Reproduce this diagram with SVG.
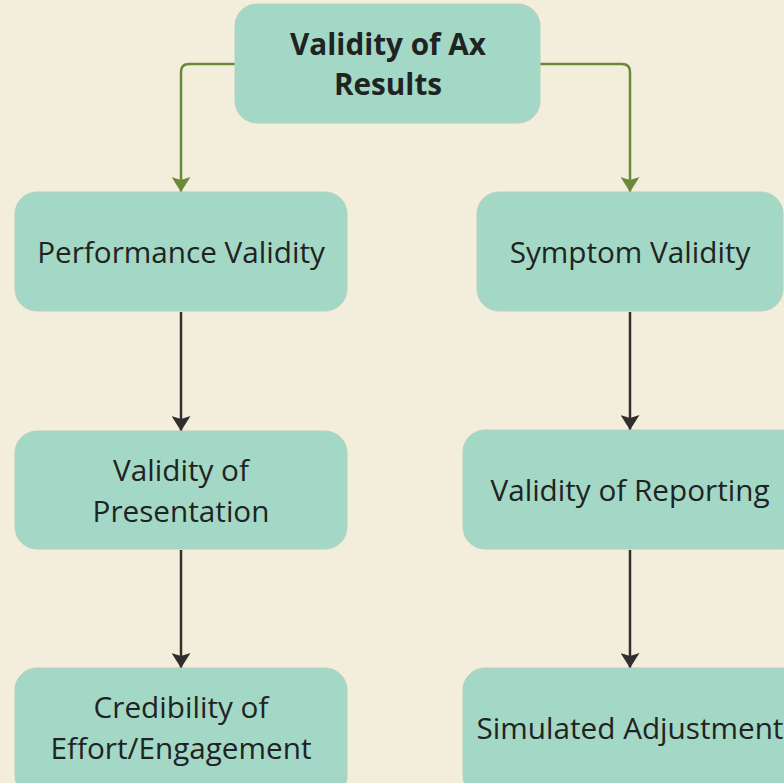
<svg xmlns="http://www.w3.org/2000/svg" width="784" height="783" viewBox="0 0 784 783">
<defs>
<style>
.node{fill:#a3d8c6;stroke:#b5d0bd;stroke-width:1}
.t{font-family:"Open Sans","Noto Sans",sans-serif;font-size:29.7px;fill:#1f2322;text-anchor:middle}
.b{font-weight:bold}
.g{fill:none;stroke:#6a8a3a;stroke-width:2.5}
.k{fill:none;stroke:#2f302e;stroke-width:2.5}
</style>
<marker id="ag" viewBox="0 0 10 10" refX="10" refY="5" markerWidth="15" markerHeight="19" markerUnits="userSpaceOnUse" orient="auto" preserveAspectRatio="none"><path d="M0,0 L10,5 L0,10 L2,5 z" fill="#6a8a3a"/></marker>
<marker id="ak" viewBox="0 0 10 10" refX="10" refY="5" markerWidth="15" markerHeight="19" markerUnits="userSpaceOnUse" orient="auto" preserveAspectRatio="none"><path d="M0,0 L10,5 L0,10 L2,5 z" fill="#2f302e"/></marker>
</defs>
<rect width="784" height="783" fill="#f3eddc"/>
<g id="connectors">
<path class="g" d="M235,64 H189 Q181,64 181,72 V192" marker-end="url(#ag)"/>
<path class="g" d="M540,64 H622 Q630,64 630,72 V192" marker-end="url(#ag)"/>
<path class="k" d="M181,312 V431" marker-end="url(#ak)"/>
<path class="k" d="M630,312 V430" marker-end="url(#ak)"/>
<path class="k" d="M181,550 V668" marker-end="url(#ak)"/>
<path class="k" d="M630,550 V668" marker-end="url(#ak)"/>
</g>
<g id="n-top">
<rect class="node" x="235" y="4" width="305" height="119" rx="22"/>
<text class="t b" x="388" y="55">Validity of Ax</text>
<text class="t b" x="388" y="95">Results</text>
</g>
<g id="n-perf">
<rect class="node" x="15" y="192" width="332" height="119" rx="22"/>
<text class="t" x="181" y="263">Performance Validity</text>
</g>
<g id="n-symp">
<rect class="node" x="477" y="192" width="306" height="119" rx="22"/>
<text class="t" x="630" y="263">Symptom Validity</text>
</g>
<g id="n-pres">
<rect class="node" x="15" y="431" width="332" height="118" rx="22"/>
<text class="t" x="181" y="481">Validity of</text>
<text class="t" x="181" y="522">Presentation</text>
</g>
<g id="n-rep">
<rect class="node" x="463" y="430" width="340" height="119" rx="22"/>
<text class="t" x="630" y="501">Validity of Reporting</text>
</g>
<g id="n-cred">
<rect class="node" x="15" y="668" width="332" height="130" rx="22"/>
<text class="t" x="181" y="718">Credibility of</text>
<text class="t" x="181" y="759">Effort/Engagement</text>
</g>
<g id="n-sim">
<rect class="node" x="463" y="668" width="340" height="130" rx="22"/>
<text class="t" x="630" y="739">Simulated Adjustment</text>
</g>
</svg>
